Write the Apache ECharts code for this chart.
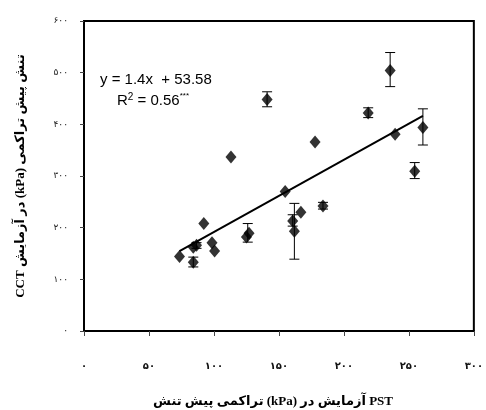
<!DOCTYPE html>
<html>
<head>
<meta charset="utf-8">
<script src="https://cdn.jsdelivr.net/npm/echarts@6/dist/echarts.min.js"></script>
<style>
html,body{margin:0;padding:0;background:#fff;}
#chart{width:486px;height:410px;}
</style>
</head>
<body>
<div id="chart"></div>
<script>
// Tick labels (Persian digits)
const xTickLabels = ['۰','۵۰','۱۰۰','۱۵۰','۲۰۰','۲۵۰','۳۰۰'];
const yTickLabels = ['۰','۱۰۰','۲۰۰','۳۰۰','۴۰۰','۵۰۰','۶۰۰'];

// Observations: PST (x) vs CCT (y), kPa
const pstValues = [113.1, 140.9, 177.8, 218.7, 235.6, 239.4, 260.8, 254.5, 154.8, 183.9, 166.9, 160.6, 161.9, 127.0, 125.0, 92.2, 73.5, 84.1, 86.6, 84.1, 98.5, 100.5];
const cctValues = [337, 448, 366, 422, 504, 381, 394, 309, 270, 242, 230, 213, 193, 189, 182, 208, 144, 162, 166, 133, 171, 155];

// Error bars: x, low, high
const errX    = [140.9, 218.7, 235.6, 260.8, 254.5, 161.9, 126.0, 84.1, 183.9, 160.6, 86.6];
const errLow  = [434,   413,   473,   360,   295,   139,   172,   124,  236,   203,   160];
const errHigh = [463,   432,   539,   430,   326,   247,   208,   143,  249,   225,   171];

// Regression line endpoints
const trendX = [73.5, 260.8];
const trendY = [154.8, 416.5];

const eqText = 'y = 1.4x  + 53.58';
const r2Value = '0.56';

const chart = echarts.init(document.getElementById('chart'), null, {renderer:'canvas'});

const scatterData = pstValues.map((x,i)=>[x, cctValues[i]]);
const errData = errX.map((x,i)=>[x, errLow[i], errHigh[i]]);
const trendData = trendX.map((x,i)=>[x, trendY[i]]);

const option = {
  animation: false,
  backgroundColor: '#fff',
  grid: {left: 84, right: 6, top: 21, bottom: 79, show: true, borderColor: '#000', borderWidth: 2, backgroundColor: 'transparent'},
  xAxis: {
    type: 'value', min: 0, max: 300, interval: 50,
    axisLine: {show: true, onZero: false, lineStyle: {color: '#000', width: 2}},
    axisTick: {show: true, length: 5, lineStyle: {color: '#444', width: 1}},
    splitLine: {show: false},
    axisLabel: {margin: 30, fontSize: 10, color: '#111', fontFamily: 'DejaVu Sans', fontWeight: 'bold',
      formatter: v => xTickLabels[Math.round(v/50)]}
  },
  yAxis: {
    type: 'value', min: 0, max: 600, interval: 100,
    axisLine: {show: true, onZero: false, lineStyle: {color: '#000', width: 2}},
    axisTick: {show: true, length: 4, lineStyle: {color: '#444', width: 1}},
    splitLine: {show: false},
    axisLabel: {margin: 16, fontSize: 9, color: '#222', fontFamily: 'DejaVu Sans',
      formatter: v => yTickLabels[Math.round(v/100)]}
  },
  series: [
    {
      type: 'custom',
      data: errData,
      z: 3,
      renderItem: function(params, api){
        const x = api.value(0);
        const lo = api.coord([x, api.value(1)]);
        const hi = api.coord([x, api.value(2)]);
        const w = 5;
        const style = {stroke: '#000', lineWidth: 1};
        return {type: 'group', children: [
          {type:'line', shape:{x1:lo[0], y1:lo[1], x2:hi[0], y2:hi[1]}, style},
          {type:'line', shape:{x1:lo[0]-w, y1:lo[1], x2:lo[0]+w, y2:lo[1]}, style},
          {type:'line', shape:{x1:hi[0]-w, y1:hi[1], x2:hi[0]+w, y2:hi[1]}, style}
        ]};
      }
    },
    {
      type: 'line',
      data: trendData,
      symbol: 'none',
      lineStyle: {color: '#000', width: 2},
      z: 4
    },
    {
      type: 'scatter',
      data: scatterData,
      symbol: 'diamond',
      symbolSize: [11, 13],
      itemStyle: {color: '#000'},
      z: 5
    }
  ],
  graphic: [
    {type:'text', x: 100, y: 80, style:{text: eqText, font: '15px "Liberation Sans"', fill:'#000', textVerticalAlign:'middle'}},
    {type:'text', x: 117, y: 92, style:{
      text: '{a|R}{s|2}{a| = ' + r2Value + '}{t|***}',
      rich: {
        a: {fontSize: 15, fontFamily: 'Liberation Sans', fill:'#000', verticalAlign:'bottom', lineHeight: 16},
        s: {fontSize: 10, fontFamily: 'Liberation Sans', fill:'#000', verticalAlign:'top', lineHeight: 16},
        t: {fontSize: 8, fontFamily: 'Liberation Sans', fill:'#000', verticalAlign:'top', lineHeight: 14}
      }
    }},
    {type:'text', x: 21, y: 176, rotation: Math.PI/2, style:{
      text: '\u202Bتنش پیش تراکمی (kPa) در آزمایش CCT\u202C',
      font: 'bold 13px "Liberation Serif", "DejaVu Sans"', fill:'#000', textAlign:'center', textVerticalAlign:'middle'}},
    {type:'text', x: 273, y: 402, style:{
      text: 'تنش\u200E پیش\u200E تراکمی\u200E (kPa)\u200E در\u200E آزمایش\u200E PST',
      font: 'bold 13px "Liberation Serif", "DejaVu Sans"', fill:'#000', textAlign:'center', textVerticalAlign:'middle'}}
  ]
};
chart.setOption(option);
</script>
</body>
</html>
